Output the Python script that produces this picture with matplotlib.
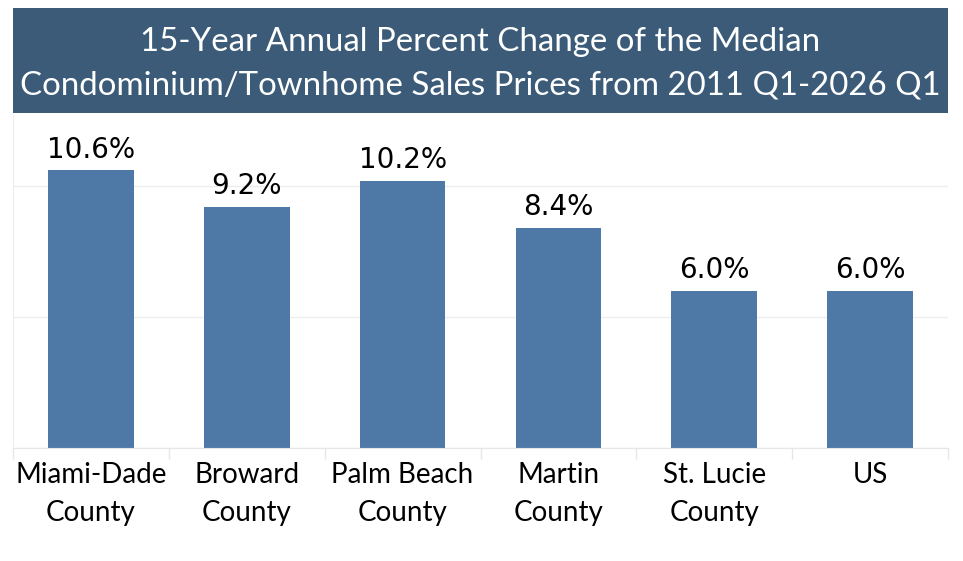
import matplotlib
matplotlib.use("Agg")
import matplotlib.pyplot as plt
import matplotlib.patches as patches
import numpy as np

categories = ["Miami-Dade\nCounty", "Broward\nCounty", "Palm Beach\nCounty",
              "Martin\nCounty", "St. Lucie\nCounty", "US"]
values = [10.6, 9.2, 10.2, 8.4, 6.0, 6.0]
title = ("15-Year Annual Percent Change of the Median\n"
         "Condominium/Townhome Sales Prices from 2011 Q1-2026 Q1")

W, H = 963, 561
fig = plt.figure(figsize=(W / 100, H / 100), dpi=100)

# title banner
x0, x1 = 13 / W, 948 / W
banner = patches.Rectangle((x0, 1 - 113 / H), x1 - x0, 105 / H,
                           transform=fig.transFigure, facecolor="#3B5B78",
                           edgecolor="none")
fig.patches.append(banner)
fig.text((x0 + x1) / 2, 1 - 64 / H, title, ha="center", va="center",
         color="white", fontsize=23.8, family="Lato", linespacing=1.58)

ax = fig.add_axes([x0, 1 - 448 / H, x1 - x0, (448 - 115) / H])
x = np.arange(len(categories))
ax.bar(x, values, width=0.55, color="#4E79A7")
ax.set_xlim(-0.5, len(categories) - 0.5)
ax.set_ylim(0, 12.7)

for xi, v in zip(x, values):
    ax.text(xi, v + 0.25, f"{v:.1f}%", ha="center", va="bottom",
            fontsize=20, color="black", family="DejaVu Sans")

ax.set_yticks([0, 5, 10])
ax.yaxis.grid(True, color="#EEEEEE", linewidth=1)
ax.set_axisbelow(True)
ax.tick_params(axis="y", left=False, labelleft=False)

ax.set_xticks(x)
ax.set_xticklabels(categories, fontsize=20, family="Lato", linespacing=1.6,
                   va="top")
ax.tick_params(axis="x", length=0, pad=10)
ax.set_xticks(np.arange(-0.5, len(categories)), minor=True)
ax.tick_params(axis="x", which="minor", length=8, color="#E6E6E6", width=1)

for s in ["top", "right"]:
    ax.spines[s].set_visible(False)
ax.spines["left"].set_color("#EEEEEE")
ax.spines["bottom"].set_color("#E6E6E6")

fig.savefig("out.png", dpi=100)
